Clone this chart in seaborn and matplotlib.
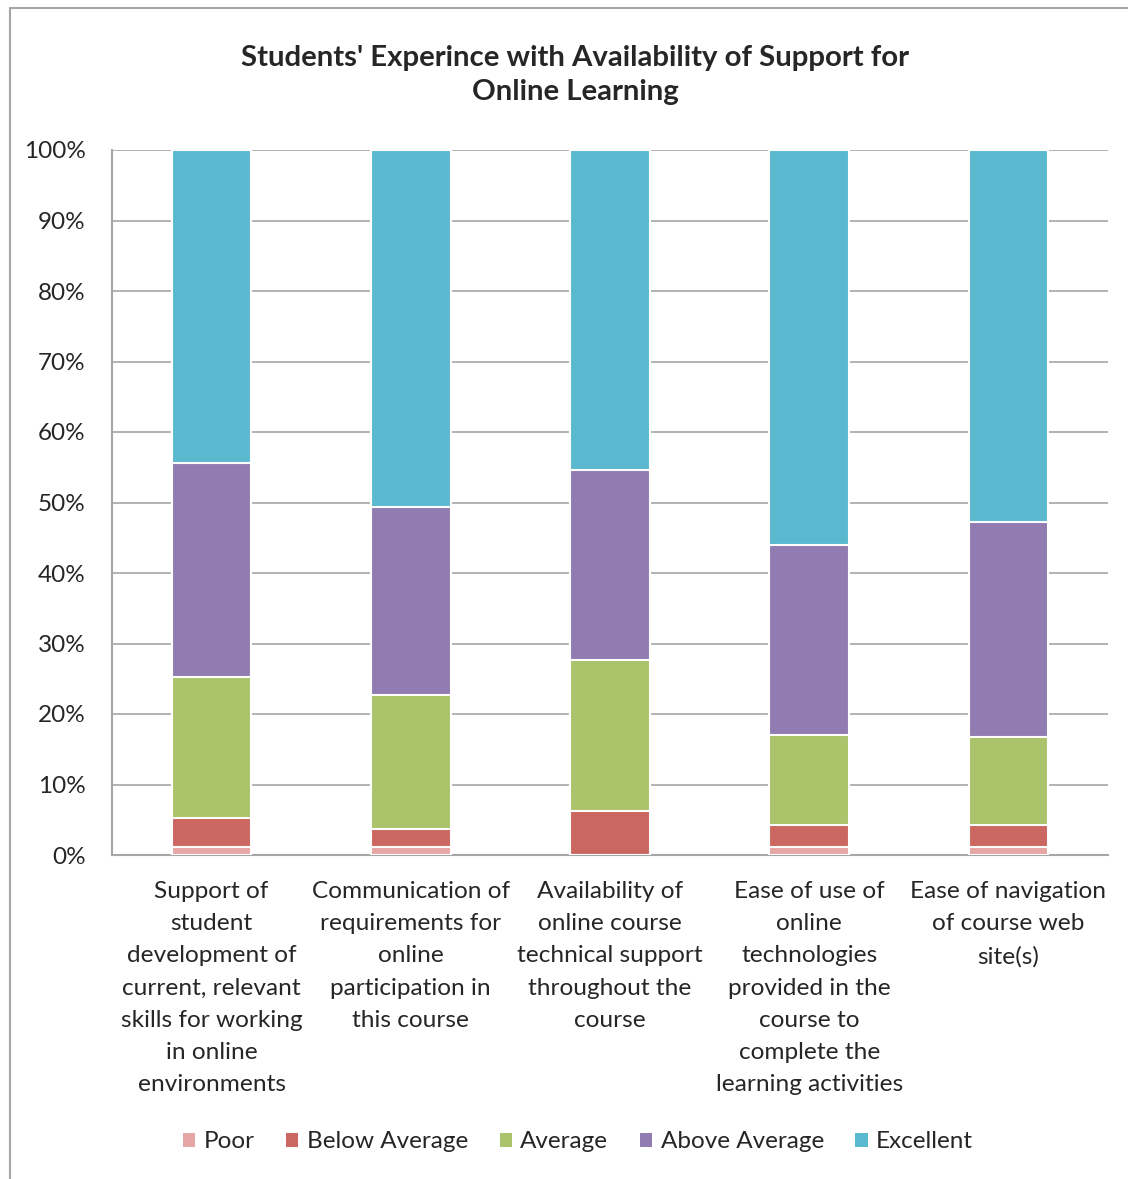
import matplotlib
matplotlib.use("Agg")
import matplotlib.pyplot as plt
import seaborn as sns
import pandas as pd
import numpy as np
from matplotlib.lines import Line2D
from matplotlib.patches import Patch

categories = [
    "Support of\nstudent\ndevelopment of\ncurrent, relevant\nskills for working\nin online\nenvironments",
    "Communication of\nrequirements for\nonline\nparticipation in\nthis course",
    "Availability of\nonline course\ntechnical support\nthroughout the\ncourse",
    "Ease of use of\nonline\ntechnologies\nprovided in the\ncourse to\ncomplete the\nlearning activities",
    "Ease of navigation\nof course web\nsite(s)",
]
series_names = ["Poor", "Below Average", "Average", "Above Average", "Excellent"]
poor = [1.1, 1.1, 0.0, 1.1, 1.1]
below_average = [4.1, 2.6, 6.2, 3.2, 3.2]
average = [20.0, 19.0, 21.5, 12.7, 12.4]
above_average = [30.4, 26.7, 26.9, 27.0, 30.5]
excellent = [44.4, 50.6, 45.4, 56.0, 52.8]
colors = ["#E6A6A4", "#CC6660", "#ABC36A", "#917CB1", "#5AB8CF"]

sns.set_style("white")
plt.rcParams['font.family'] = ['Lato', 'DejaVu Sans']

fig = plt.figure(figsize=(11.28, 11.79), dpi=100)
ax = fig.add_axes([112/1128, 1-855/1179, (1108-112)/1128, (855-150)/1179])

vals = np.array([poor, below_average, average, above_average, excellent])
cum = np.cumsum(vals, axis=0)
cum[-1] = np.minimum(cum[-1], 100)
xidx = list(range(len(categories)))
# draw from top segment down so each cumulative bar overlays
for i in range(len(series_names) - 1, -1, -1):
    df = pd.DataFrame({"x": xidx, "y": cum[i]})
    sns.barplot(data=df, x="x", y="y", color=colors[i], width=0.4,
                edgecolor="white", linewidth=1.5, ax=ax, zorder=3,
                saturation=1, native_scale=True)

ax.set_xlim(-0.5, len(categories) - 0.5)
ax.set_ylim(0, 100)
ax.set_yticks(np.arange(0, 101, 10))
ax.set_yticklabels([f"{v}%" for v in range(0, 101, 10)], fontsize=17.5)
ax.yaxis.grid(True, color="#A6A6A6", linewidth=1.2, zorder=0)
ax.set_axisbelow(True)
ax.set_xlabel("")
ax.set_ylabel("")

ax.set_xticks(np.arange(-0.5, len(categories), 1.0))
ax.set_xticklabels([])
ax.tick_params(axis="x", which="major", direction="out", length=7, color="#A6A6A6", width=1.2)
ax.tick_params(axis="y", which="major", direction="out", length=7, color="#A6A6A6", width=1.2, pad=12)
ax.set_xticks(xidx, minor=True)
ax.set_xticklabels(categories, minor=True, fontsize=17.6, linespacing=1.65)
ax.tick_params(axis="x", which="minor", length=0, pad=19)

for s in ["top", "right"]:
    ax.spines[s].set_visible(False)
for s in ["left", "bottom"]:
    ax.spines[s].set_color("#A6A6A6")
    ax.spines[s].set_linewidth(1.5)

fig.text(575/1128, 1-75/1179,
         "Students' Experince with Availability of Support for\nOnline Learning",
         ha="center", va="center", fontsize=21.2, fontweight="bold", linespacing=1.42)

handles = [Patch(facecolor=c, edgecolor="none") for c in colors]
fig.legend(handles, series_names, loc="center", bbox_to_anchor=(578/1128, 1-1142/1179),
           ncol=5, frameon=False, fontsize=17.5, handlelength=0.5, handleheight=0.5,
           handletextpad=0.35, columnspacing=1.3)

fig.add_artist(Line2D([10/1128, 10/1128], [0, 1-8/1179], color="#A6A6A6", linewidth=1.5,
                      transform=fig.transFigure))
fig.add_artist(Line2D([10/1128, 1], [1-8/1179, 1-8/1179], color="#A6A6A6", linewidth=1.5,
                      transform=fig.transFigure))

fig.savefig("out.png", dpi=100)
